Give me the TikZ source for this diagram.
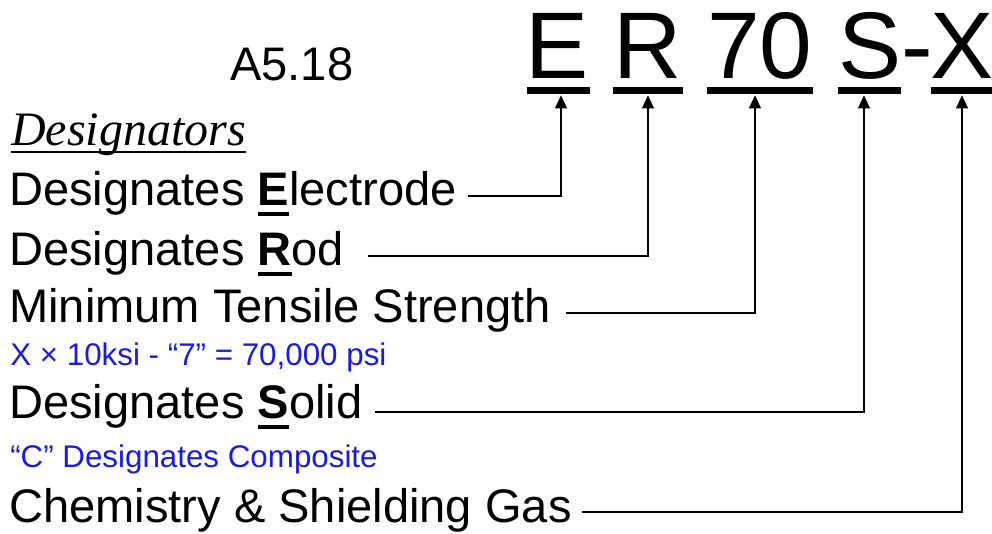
\documentclass[tikz,border=0pt]{standalone}
\usepackage{fontspec}
\setmainfont{Liberation Sans}
\newfontfamily\timesit{Liberation Serif}
\usepackage{tikz}
\usetikzlibrary{calc, arrows.meta}
\definecolor{noteblue}{RGB}{25,25,235}
% underline a piece of text with a rule of given thickness
\newcommand\ulword[3]{\setbox0\hbox{#3}\rlap{\rule[#1]{\wd0}{#2}}\box0}

\begin{document}
\begin{tikzpicture}[x=0.75pt, y=-0.75pt,
  lbl/.style={anchor=base west, inner sep=0pt, font=\fontsize{35.3}{42}\selectfont},
  note/.style={anchor=base west, inner sep=0pt, text=noteblue, font=\fontsize{23.5}{28}\selectfont},
  big/.style={anchor=base, inner sep=0pt, font=\fontsize{71}{85}\selectfont},
  link/.style={line width=2.2pt, -{Triangle[length=10pt, width=8.5pt]}}]

\useasboundingbox (0,0) rectangle (992,533);

\node[lbl] (spec) at (230,80) {A5.18};

% the classification letters
\node[big] (lE) at (557,78) {E};
\node[big] (lR) at (648,78) {R};
\node[big] (l70) at (760,78) {70};
\node[big] (lS) at (870,78) {S};
\node[big] (lDash) at (917,78) {-};
\node[big] (lX) at (962,78) {X};

\fill (527,86.5) rectangle (590,93.5);
\fill (613,86.5) rectangle (683,93.5);
\fill (707,86.5) rectangle (813,93.5);
\fill (838,86.5) rectangle (901,93.5);
\fill (931,86.5) rectangle (992,93.5);

\coordinate (tE) at (561,95);
\coordinate (tR) at (648,95);
\coordinate (t70) at (755,95);
\coordinate (tS) at (864,95);
\coordinate (tX) at (962,95);

% the designators
\node[anchor=base west, inner sep=0pt, font=\timesit\itshape\fontsize{36}{43}\selectfont] (desig) at (11,145)
  {\ulword{-0.17em}{0.04em}{Designators}};
\node[lbl] (elec) at (9,205) {Designates \ulword{-0.24em}{0.09em}{\bfseries E}lectrode};
\node[lbl] (rod) at (9,265) {Designates \ulword{-0.24em}{0.09em}{\bfseries R}od};
\node[lbl] (tens) at (9,322) {Minimum Tensile Strength};
\node[note] (tensnote) at (10,365) {X × 10ksi - “7” = 70,000 psi};
\node[lbl] (solid) at (9,418) {Designates \ulword{-0.24em}{0.09em}{\bfseries S}olid};
\node[note] (solidnote) at (10,467) {“C” Designates Composite};
\node[lbl] (chem) at (9,522) {Chemistry \& Shielding Gas};

\draw[link] ($(elec.base east)+(11,-9)$) -| (tE);
\draw[link] ($(rod.base east)+(24,-9)$) -| (tR);
\draw[link] ($(tens.base east)+(15,-9)$) -| (t70);
\draw[link] ($(solid.base east)+(12,-6)$) -| (tS);
\draw[link] ($(chem.base east)+(10,-10)$) -| (tX);
\end{tikzpicture}
\end{document}
